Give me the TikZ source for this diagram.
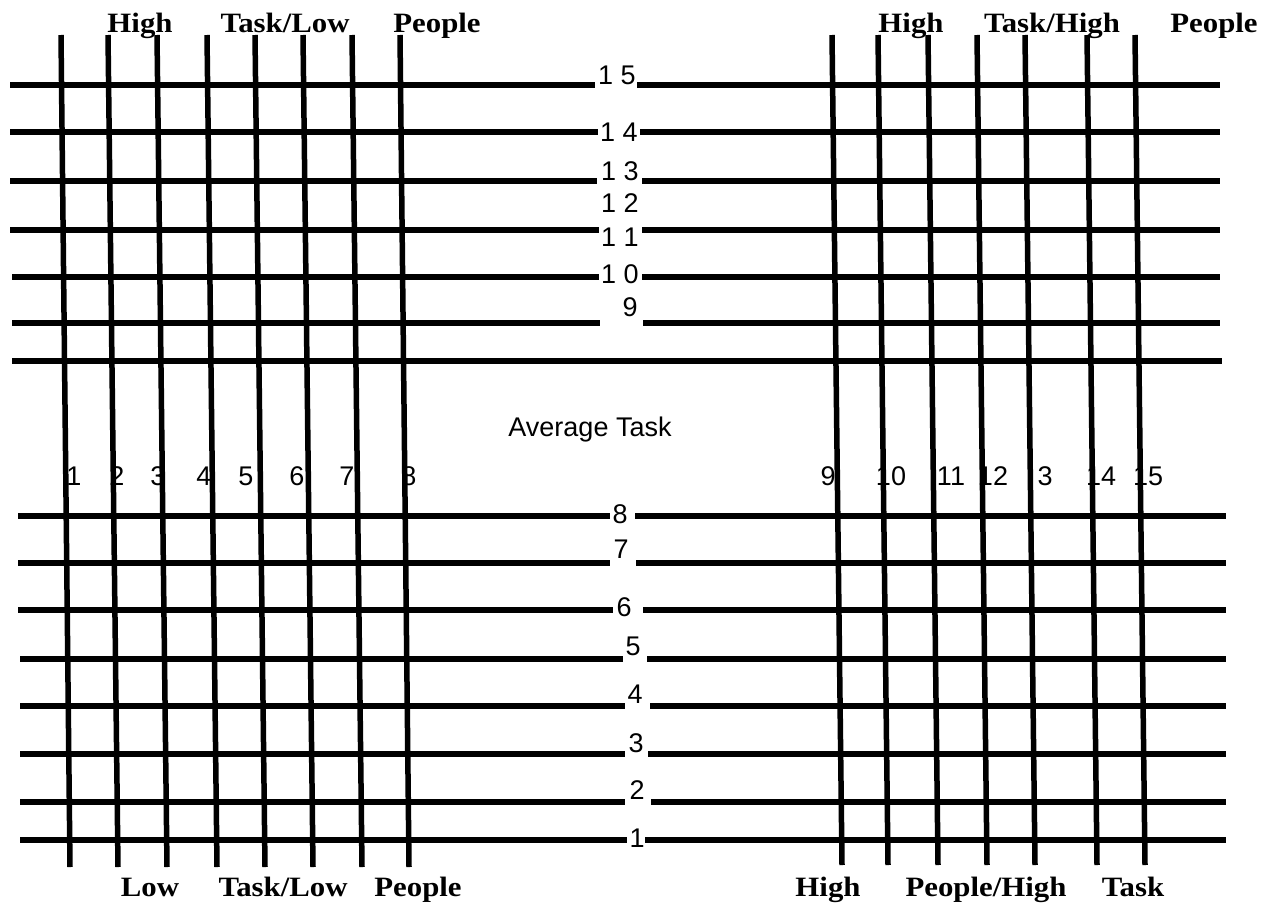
\documentclass[tikz,border=0pt]{standalone}
\usepackage{fontspec}
\newfontfamily\numfont{Liberation Sans}
\newfontfamily\wordfont[FakeStretch=1.1]{Liberation Serif}
\tikzset{
  bar/.style={line width=5.5pt},
  num/.style={font=\numfont\fontsize{27}{27}\selectfont, inner sep=0pt},
  word/.style={font=\wordfont\bfseries\fontsize{28}{28}\selectfont, inner sep=0pt, anchor=base},
}

\begin{document}
\begin{tikzpicture}[x=1pt,y=-1pt]
\useasboundingbox (0,0) rectangle (1276,902);
% headings
\node[word] (tl-high) at (140,32) {High};
\node[word] (tl-task) at (285,32) {Task/Low};
\node[word] (tl-people) at (437,32) {People};
\node[word] (tr-high) at (911,32) {High};
\node[word] (tr-task) at (1052,32) {Task/High};
\node[word] (tr-people) at (1214,32) {People};
\node[word] (bl-low) at (150,896) {Low};
\node[word] (bl-task) at (283,896) {Task/Low};
\node[word] (bl-people) at (418,896) {People};
\node[word] (br-high) at (828,896) {High};
\node[word] (br-people) at (986,896) {People/High};
\node[word] (br-task) at (1133,896) {Task};
\node[num, anchor=base] (avg) at (590,436) {Average Task};
% column numbers
\node[num] (c1) at (74,476) {1};
\node[num] (c2) at (117,476) {2};
\node[num] (c3) at (158,476) {3};
\node[num] (c4) at (204,476) {4};
\node[num] (c5) at (246,476) {5};
\node[num] (c6) at (297,476) {6};
\node[num] (c7) at (347,476) {7};
\node[num] (c8) at (409,476) {8};
\node[num] (c9) at (828,476) {9};
\node[num] (c10) at (891,476) {10};
\node[num] (c11) at (951,476) {11};
\node[num] (c12) at (993,476) {12};
\node[num] (c13) at (1045,476) {3};
\node[num] (c14) at (1101,476) {14};
\node[num] (c15) at (1148,476) {15};
% row numbers
\node[num] (r15) at (617,75) {1 5};
\node[num] (r14) at (619,132) {1 4};
\node[num] (r13) at (620,171) {1 3};
\node[num] (r12) at (620,203) {1 2};
\node[num] (r11) at (620,237) {1 1};
\node[num] (r10) at (620,274) {1 0};
\node[num] (r9) at (630,307) {9};
\node[num] (r8) at (620,514) {8};
\node[num] (r7) at (621,549) {7};
\node[num] (r6) at (624,607) {6};
\node[num] (r5) at (633,646) {5};
\node[num] (r4) at (635,694) {4};
\node[num] (r3) at (636,743) {3};
\node[num] (r2) at (637,790) {2};
\node[num] (r1) at (637,838) {1};
% upper rows
\draw[bar] (10,85) -- (595,85);
\draw[bar] (637,85) -- (1220,85);
\draw[bar] (10,132) -- (598,132);
\draw[bar] (640,132) -- (1220,132);
\draw[bar] (10,181) -- (597,181);
\draw[bar] (642,181) -- (1220,181);
\draw[bar] (10,230) -- (599,230);
\draw[bar] (642,230) -- (1220,230);
\draw[bar] (12,277) -- (599,277);
\draw[bar] (642,277) -- (1220,277);
\draw[bar] (12,323) -- (600,323);
\draw[bar] (643,323) -- (1220,323);
\draw[bar] (12,361) -- (1222,361);
% lower rows
\draw[bar] (18,516) -- (610,516);
\draw[bar] (635,516) -- (1226,516);
\draw[bar] (18,563) -- (610,563);
\draw[bar] (636,563) -- (1226,563);
\draw[bar] (18,610) -- (613,610);
\draw[bar] (643,610) -- (1226,610);
\draw[bar] (20,659) -- (623,659);
\draw[bar] (647,659) -- (1226,659);
\draw[bar] (20,706) -- (625,706);
\draw[bar] (650,706) -- (1226,706);
\draw[bar] (20,754) -- (625,754);
\draw[bar] (648,754) -- (1226,754);
\draw[bar] (20,802) -- (625,802);
\draw[bar] (651,802) -- (1226,802);
\draw[bar] (20,840) -- (627,840);
\draw[bar] (645,840) -- (1226,840);
% left columns
\draw[bar] (61,35) -- (70,867);
\draw[bar] (108,35) -- (118,867);
\draw[bar] (157,35) -- (167,867);
\draw[bar] (207,35) -- (217,867);
\draw[bar] (255,35) -- (265,867);
\draw[bar] (303,35) -- (313,867);
\draw[bar] (352,35) -- (362,867);
\draw[bar] (400,35) -- (409,867);
% right columns
\draw[bar] (832,35) -- (842,865);
\draw[bar] (878,35) -- (888,865);
\draw[bar] (928,35) -- (938,865);
\draw[bar] (977,35) -- (987,865);
\draw[bar] (1025,35) -- (1035,865);
\draw[bar] (1087,35) -- (1097,865);
\draw[bar] (1135,35) -- (1145,865);
\end{tikzpicture}
\end{document}
